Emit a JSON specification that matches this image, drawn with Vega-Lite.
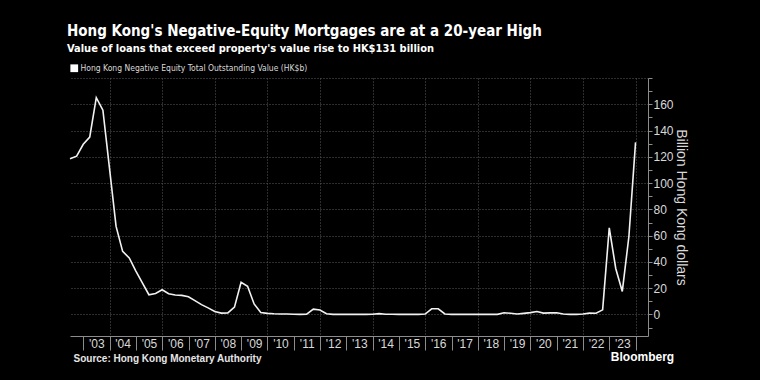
{
  "$schema": "https://vega.github.io/schema/vega-lite/v6.json",
  "width": 578,
  "height": 258,
  "autosize": "none",
  "padding": {"left": 70, "top": 78, "right": 112, "bottom": 44},
  "background": "#000000",
  "title": {
    "text": "Hong Kong's Negative-Equity Mortgages are at a 20-year High",
    "subtitle": "Value of loans that exceed property's value rise to HK$131 billion",
    "anchor": "start",
    "frame": "group",
    "font": "DejaVu Sans Condensed",
    "fontSize": 15,
    "fontWeight": "bold",
    "color": "#ffffff",
    "subtitleFont": "DejaVu Sans Condensed",
    "subtitleFontSize": 11,
    "subtitleFontWeight": "bold",
    "subtitleColor": "#ffffff",
    "subtitlePadding": 4,
    "offset": 10,
    "dx": -3
  },
  "config": {
    "view": {"stroke": null},
    "axis": {"labelFont": "Liberation Sans", "titleFont": "Liberation Sans"}
  },
  "data": {
    "values": [
      {"date": "2002-06-30", "value": 118.5},
      {"date": "2002-09-30", "value": 120.5},
      {"date": "2002-12-31", "value": 129.5},
      {"date": "2003-03-31", "value": 135},
      {"date": "2003-06-30", "value": 165},
      {"date": "2003-09-30", "value": 155.5},
      {"date": "2003-12-31", "value": 111},
      {"date": "2004-03-31", "value": 67},
      {"date": "2004-06-30", "value": 48},
      {"date": "2004-09-30", "value": 43},
      {"date": "2004-12-31", "value": 33},
      {"date": "2005-03-31", "value": 24},
      {"date": "2005-06-30", "value": 15},
      {"date": "2005-09-30", "value": 16},
      {"date": "2005-12-31", "value": 18.8},
      {"date": "2006-03-31", "value": 15.8},
      {"date": "2006-06-30", "value": 14.8},
      {"date": "2006-09-30", "value": 14.5},
      {"date": "2006-12-31", "value": 13.5},
      {"date": "2007-03-31", "value": 10.5},
      {"date": "2007-06-30", "value": 7.5},
      {"date": "2007-09-30", "value": 5},
      {"date": "2007-12-31", "value": 2.3},
      {"date": "2008-03-31", "value": 1},
      {"date": "2008-06-30", "value": 1.2},
      {"date": "2008-09-30", "value": 5.6},
      {"date": "2008-12-31", "value": 24.5},
      {"date": "2009-03-31", "value": 21.5},
      {"date": "2009-06-30", "value": 8},
      {"date": "2009-09-30", "value": 1.5},
      {"date": "2009-12-31", "value": 0.8},
      {"date": "2010-03-31", "value": 0.5},
      {"date": "2010-06-30", "value": 0.4},
      {"date": "2010-09-30", "value": 0.3},
      {"date": "2010-12-31", "value": 0.2},
      {"date": "2011-03-31", "value": 0.1},
      {"date": "2011-06-30", "value": 0.2},
      {"date": "2011-09-30", "value": 4},
      {"date": "2011-12-31", "value": 3.4},
      {"date": "2012-03-31", "value": 0.5},
      {"date": "2012-06-30", "value": 0.1},
      {"date": "2012-09-30", "value": 0.1},
      {"date": "2012-12-31", "value": 0.1},
      {"date": "2013-03-31", "value": 0.1},
      {"date": "2013-06-30", "value": 0.1},
      {"date": "2013-09-30", "value": 0.1},
      {"date": "2013-12-31", "value": 0.2},
      {"date": "2014-03-31", "value": 0.6},
      {"date": "2014-06-30", "value": 0.2},
      {"date": "2014-09-30", "value": 0.1},
      {"date": "2014-12-31", "value": 0.1},
      {"date": "2015-03-31", "value": 0.1},
      {"date": "2015-06-30", "value": 0.1},
      {"date": "2015-09-30", "value": 0.1},
      {"date": "2015-12-31", "value": 0.3},
      {"date": "2016-03-31", "value": 4.3},
      {"date": "2016-06-30", "value": 4.3},
      {"date": "2016-09-30", "value": 0.4},
      {"date": "2016-12-31", "value": 0.1},
      {"date": "2017-03-31", "value": 0.1},
      {"date": "2017-06-30", "value": 0.1},
      {"date": "2017-09-30", "value": 0.1},
      {"date": "2017-12-31", "value": 0.1},
      {"date": "2018-03-31", "value": 0.1},
      {"date": "2018-06-30", "value": 0.1},
      {"date": "2018-09-30", "value": 0.1},
      {"date": "2018-12-31", "value": 1.3},
      {"date": "2019-03-31", "value": 0.9},
      {"date": "2019-06-30", "value": 0.3},
      {"date": "2019-09-30", "value": 0.8},
      {"date": "2019-12-31", "value": 1.4},
      {"date": "2020-03-31", "value": 2.2},
      {"date": "2020-06-30", "value": 1.0},
      {"date": "2020-09-30", "value": 1.2},
      {"date": "2020-12-31", "value": 1.3},
      {"date": "2021-03-31", "value": 0.3},
      {"date": "2021-06-30", "value": 0.1},
      {"date": "2021-09-30", "value": 0.1},
      {"date": "2021-12-31", "value": 0.3},
      {"date": "2022-03-31", "value": 1.0},
      {"date": "2022-06-30", "value": 0.9},
      {"date": "2022-09-30", "value": 3.5},
      {"date": "2022-12-31", "value": 66},
      {"date": "2023-03-31", "value": 35},
      {"date": "2023-06-30", "value": 17.5},
      {"date": "2023-09-30", "value": 59.5},
      {"date": "2023-12-31", "value": 131}
    ]
  },
  "encoding": {
    "x": {
      "field": "date",
      "type": "temporal",
      "scale": {"type": "utc", "domain": ["2002-06-30", "2024-06-21"], "nice": false},
      "axis": {
        "tickCount": {"interval": "year", "step": 1},
        "labelExpr": "utcyear(datum.value) >= 2024 ? '' : utcFormat(datum.value, \"'%y\")",
        "labelOffset": 13,
        "labelPadding": -11.5,
        "labelBaseline": "top",
        "labelFontSize": 12,
        "labelColor": "#d9d9d9",
        "labelOverlap": false,
        "labelBound": false,
        "labelFlush": false,
        "tickSize": 14,
        "tickColor": "#8c8c8c",
        "domainColor": "#8c8c8c",
        "grid": true,
        "gridDash": [1, 2],
        "gridColor": "#5a5a5a",
        "gridOpacity": {"condition": {"test": "utcyear(datum.value) % 2 === 0", "value": 1}, "value": 0},
        "title": "Source: Hong Kong Monetary Authority",
        "titleAnchor": "start",
        "titleAlign": "left",
        "titleBaseline": "alphabetic",
        "titleX": 3,
        "titleY": 25,
        "titleFontSize": 10,
        "titleFontWeight": "bold",
        "titleColor": "#e6e6e6"
      }
    },
    "y": {
      "field": "value",
      "type": "quantitative",
      "scale": {"domain": [-16.4, 180], "nice": false, "zero": false},
      "axis": {
        "orient": "right",
        "values": [-10, 0, 10, 20, 30, 40, 50, 60, 70, 80, 90, 100, 110, 120, 130, 140, 150, 160, 170, 180],
        "labelExpr": "(datum.value % 20 == 0 && datum.value >= 0 && datum.value <= 160) ? datum.label : ''",
        "labelFontSize": 12,
        "labelColor": "#d9d9d9",
        "labelPadding": 1,
        "labelOverlap": false,
        "tickSize": 4,
        "tickColor": "#8c8c8c",
        "domainColor": "#8c8c8c",
        "grid": true,
        "gridDash": [1, 2],
        "gridColor": "#5a5a5a",
        "gridOpacity": {"condition": {"test": "datum.value % 20 == 0 && datum.value >= 0", "value": 1}, "value": 0},
        "title": "Billion Hong Kong dollars",
        "titleAngle": 90,
        "titleFontSize": 14,
        "titleFontWeight": "normal",
        "titleColor": "#d9d9d9",
        "titlePadding": 0
      }
    }
  },
  "layer": [
    {
      "mark": {"type": "line", "strokeWidth": 1.6, "interpolate": "linear"},
      "encoding": {
        "color": {
          "datum": "Hong Kong Negative Equity Total Outstanding Value (HK$b)",
          "type": "nominal",
          "scale": {"range": ["#f2f2f2"]},
          "legend": {
            "orient": "none",
            "legendX": 0,
            "legendY": -14,
            "title": null,
            "symbolType": "square",
            "symbolSize": 60,
            "symbolFillColor": "#ffffff",
            "symbolStrokeWidth": 0,
            "labelFont": "DejaVu Sans Condensed",
            "labelFontSize": 8.5,
            "labelLimit": 0,
            "labelColor": "#d9d9d9",
            "labelOffset": 2,
            "padding": 0
          }
        }
      }
    },
    {
      "data": {"values": [{"date": "2024-04-06", "value": -35.3, "label": "Bloomberg"}]},
      "mark": {"type": "text", "align": "center", "baseline": "alphabetic", "font": "Liberation Sans", "fontSize": 12, "fontWeight": "bold", "color": "#ffffff"},
      "encoding": {
        "text": {"field": "label"}
      }
    }
  ]
}
